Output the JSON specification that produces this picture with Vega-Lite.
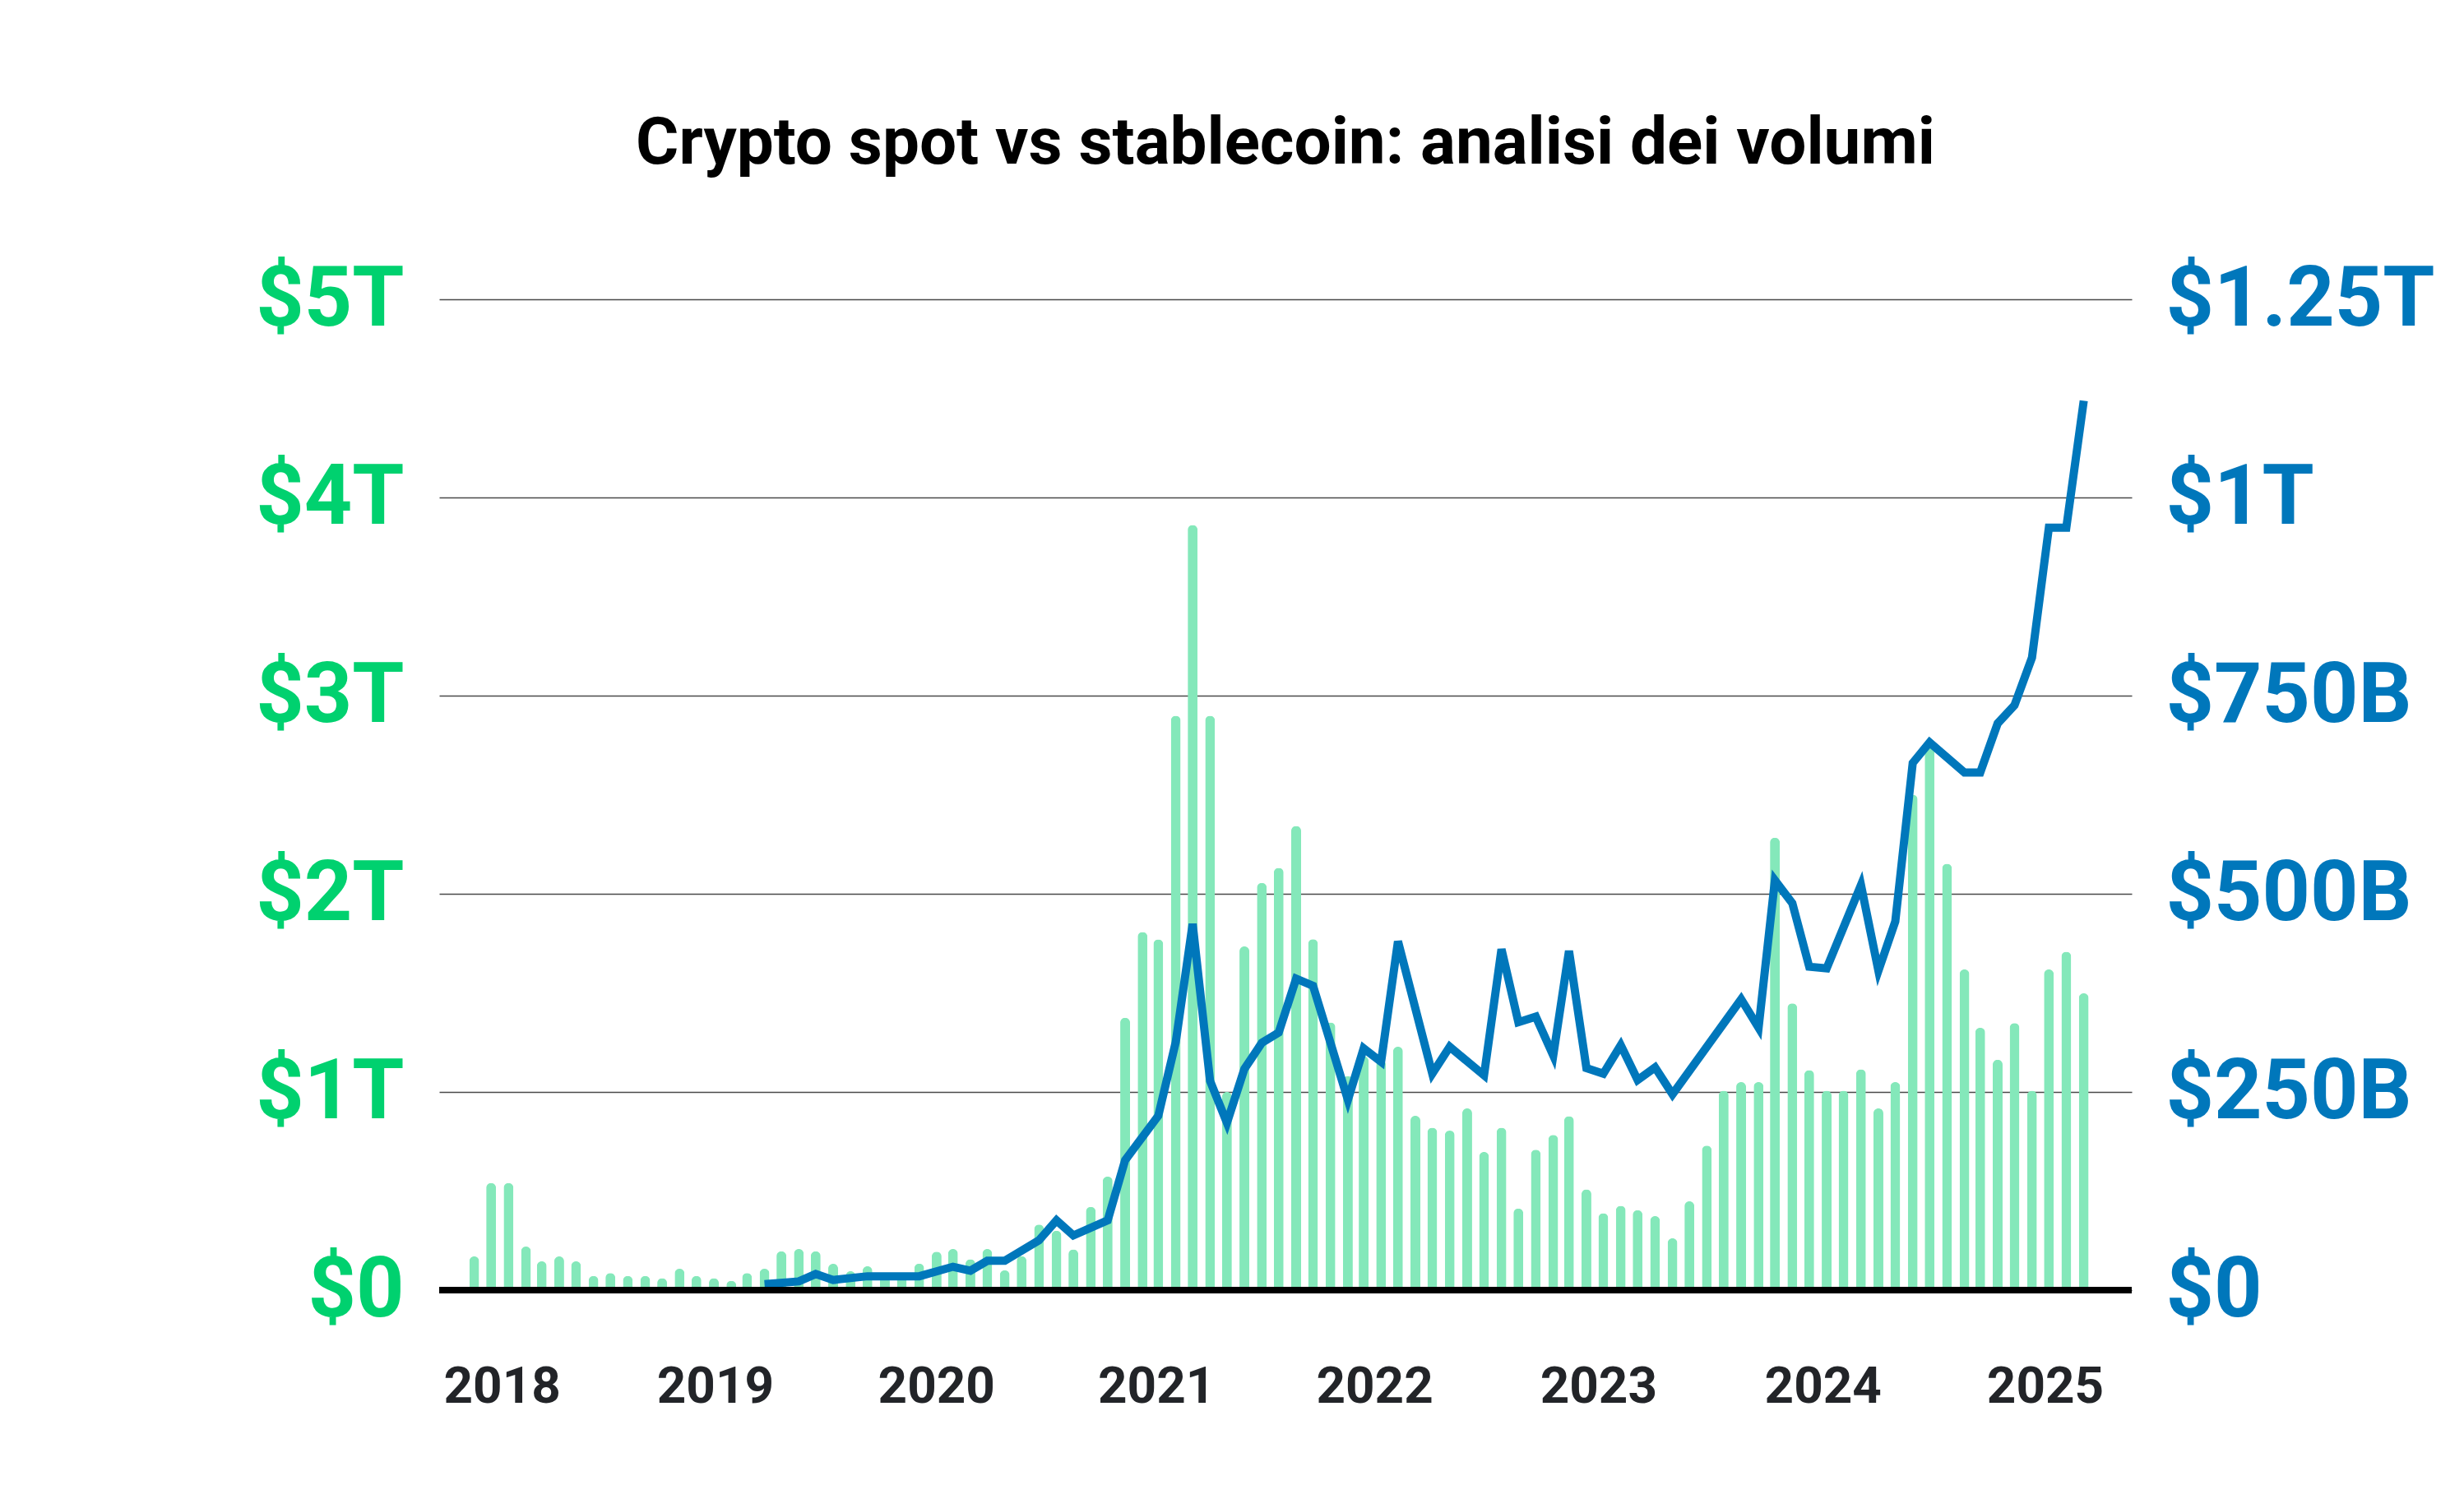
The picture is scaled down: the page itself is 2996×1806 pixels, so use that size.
{
  "$schema": "https://vega.github.io/schema/vega-lite/v6.json",
  "autosize": {"type": "none"},
  "width": 2058,
  "height": 1205,
  "padding": {"left": 534, "top": 364, "right": 404, "bottom": 237},
  "background": "white",
  "config": {"view": {"stroke": null}},
  "title": {
    "text": "Crypto spot vs stablecoin: analisi dei volumi",
    "font": "Roboto",
    "fontSize": 80,
    "fontWeight": 700,
    "color": "#000000",
    "anchor": "middle",
    "baseline": "alphabetic",
    "offset": 34
  },
  "datasets": {
    "spot": [
      {"date": "2017-11-01", "spot": 0.17}, {"date": "2017-12-01", "spot": 0.54}, {"date": "2018-01-01", "spot": 0.54},
      {"date": "2018-02-01", "spot": 0.22}, {"date": "2018-03-01", "spot": 0.145}, {"date": "2018-04-01", "spot": 0.17},
      {"date": "2018-05-01", "spot": 0.145}, {"date": "2018-06-01", "spot": 0.072}, {"date": "2018-07-01", "spot": 0.086},
      {"date": "2018-08-01", "spot": 0.072}, {"date": "2018-09-01", "spot": 0.072}, {"date": "2018-10-01", "spot": 0.06},
      {"date": "2018-11-01", "spot": 0.108}, {"date": "2018-12-01", "spot": 0.072}, {"date": "2019-01-01", "spot": 0.06},
      {"date": "2019-02-01", "spot": 0.047}, {"date": "2019-03-01", "spot": 0.086}, {"date": "2019-04-01", "spot": 0.108},
      {"date": "2019-05-01", "spot": 0.196}, {"date": "2019-06-01", "spot": 0.207}, {"date": "2019-07-01", "spot": 0.196},
      {"date": "2019-08-01", "spot": 0.133}, {"date": "2019-09-01", "spot": 0.095}, {"date": "2019-10-01", "spot": 0.12},
      {"date": "2019-11-01", "spot": 0.07}, {"date": "2019-12-01", "spot": 0.07}, {"date": "2020-01-01", "spot": 0.134},
      {"date": "2020-02-01", "spot": 0.194}, {"date": "2020-03-01", "spot": 0.207}, {"date": "2020-04-01", "spot": 0.156},
      {"date": "2020-05-01", "spot": 0.207}, {"date": "2020-06-01", "spot": 0.1}, {"date": "2020-07-01", "spot": 0.171},
      {"date": "2020-08-01", "spot": 0.331}, {"date": "2020-09-01", "spot": 0.3}, {"date": "2020-10-01", "spot": 0.205},
      {"date": "2020-11-01", "spot": 0.42}, {"date": "2020-12-01", "spot": 0.573}, {"date": "2021-01-01", "spot": 1.375},
      {"date": "2021-02-01", "spot": 1.807}, {"date": "2021-03-01", "spot": 1.77}, {"date": "2021-04-01", "spot": 2.898},
      {"date": "2021-05-01", "spot": 3.861}, {"date": "2021-06-01", "spot": 2.898}, {"date": "2021-07-01", "spot": 1.0},
      {"date": "2021-08-01", "spot": 1.734}, {"date": "2021-09-01", "spot": 2.055}, {"date": "2021-10-01", "spot": 2.131},
      {"date": "2021-11-01", "spot": 2.342}, {"date": "2021-12-01", "spot": 1.771}, {"date": "2022-01-01", "spot": 1.351},
      {"date": "2022-02-01", "spot": 1.08}, {"date": "2022-03-01", "spot": 1.18}, {"date": "2022-04-01", "spot": 1.16},
      {"date": "2022-05-01", "spot": 1.228}, {"date": "2022-06-01", "spot": 0.88}, {"date": "2022-07-01", "spot": 0.82},
      {"date": "2022-08-01", "spot": 0.805}, {"date": "2022-09-01", "spot": 0.917}, {"date": "2022-10-01", "spot": 0.697},
      {"date": "2022-11-01", "spot": 0.82}, {"date": "2022-12-01", "spot": 0.412}, {"date": "2023-01-01", "spot": 0.709},
      {"date": "2023-02-01", "spot": 0.783}, {"date": "2023-03-01", "spot": 0.878}, {"date": "2023-04-01", "spot": 0.508},
      {"date": "2023-05-01", "spot": 0.388}, {"date": "2023-06-01", "spot": 0.425}, {"date": "2023-07-01", "spot": 0.404},
      {"date": "2023-08-01", "spot": 0.373}, {"date": "2023-09-01", "spot": 0.261}, {"date": "2023-10-01", "spot": 0.448},
      {"date": "2023-11-01", "spot": 0.729}, {"date": "2023-12-01", "spot": 1.006}, {"date": "2024-01-01", "spot": 1.05},
      {"date": "2024-02-01", "spot": 1.05}, {"date": "2024-03-01", "spot": 2.283}, {"date": "2024-04-01", "spot": 1.447},
      {"date": "2024-05-01", "spot": 1.11}, {"date": "2024-06-01", "spot": 1.006}, {"date": "2024-07-01", "spot": 1.006},
      {"date": "2024-08-01", "spot": 1.114}, {"date": "2024-09-01", "spot": 0.917}, {"date": "2024-10-01", "spot": 1.05},
      {"date": "2024-11-01", "spot": 2.5}, {"date": "2024-12-01", "spot": 2.74}, {"date": "2025-01-01", "spot": 2.151},
      {"date": "2025-02-01", "spot": 1.618}, {"date": "2025-03-01", "spot": 1.324}, {"date": "2025-04-01", "spot": 1.163},
      {"date": "2025-05-01", "spot": 1.347}, {"date": "2025-06-01", "spot": 1.006}, {"date": "2025-07-01", "spot": 1.618},
      {"date": "2025-08-01", "spot": 1.707}, {"date": "2025-09-01", "spot": 1.498}
    ],
    "stable": [
      {"date": "2019-04-01", "stable": 7.6}, {"date": "2019-06-01", "stable": 11}, {"date": "2019-07-01", "stable": 20.4},
      {"date": "2019-08-01", "stable": 12.8}, {"date": "2019-10-01", "stable": 17.5}, {"date": "2020-01-01", "stable": 17.5},
      {"date": "2020-03-01", "stable": 29.5}, {"date": "2020-04-01", "stable": 24.5}, {"date": "2020-05-01", "stable": 37},
      {"date": "2020-06-01", "stable": 37}, {"date": "2020-08-01", "stable": 63}, {"date": "2020-09-01", "stable": 88},
      {"date": "2020-10-01", "stable": 69}, {"date": "2020-12-01", "stable": 88}, {"date": "2021-01-01", "stable": 164},
      {"date": "2021-03-01", "stable": 220}, {"date": "2021-04-01", "stable": 313}, {"date": "2021-05-01", "stable": 462},
      {"date": "2021-06-01", "stable": 264}, {"date": "2021-07-01", "stable": 211}, {"date": "2021-08-01", "stable": 279},
      {"date": "2021-09-01", "stable": 312}, {"date": "2021-10-01", "stable": 325}, {"date": "2021-11-01", "stable": 393},
      {"date": "2021-12-01", "stable": 384}, {"date": "2022-02-01", "stable": 240}, {"date": "2022-03-01", "stable": 305},
      {"date": "2022-04-01", "stable": 288}, {"date": "2022-05-01", "stable": 440}, {"date": "2022-07-01", "stable": 273},
      {"date": "2022-08-01", "stable": 307}, {"date": "2022-10-01", "stable": 271}, {"date": "2022-11-01", "stable": 430},
      {"date": "2022-12-01", "stable": 338}, {"date": "2023-01-01", "stable": 345}, {"date": "2023-02-01", "stable": 296},
      {"date": "2023-03-01", "stable": 428}, {"date": "2023-04-01", "stable": 280}, {"date": "2023-05-01", "stable": 273},
      {"date": "2023-06-01", "stable": 309}, {"date": "2023-07-01", "stable": 265}, {"date": "2023-08-01", "stable": 281},
      {"date": "2023-09-01", "stable": 247}, {"date": "2024-01-01", "stable": 367}, {"date": "2024-02-01", "stable": 331},
      {"date": "2024-03-01", "stable": 517}, {"date": "2024-04-01", "stable": 488}, {"date": "2024-05-01", "stable": 408},
      {"date": "2024-06-01", "stable": 406}, {"date": "2024-08-01", "stable": 511}, {"date": "2024-09-01", "stable": 403},
      {"date": "2024-10-01", "stable": 465}, {"date": "2024-11-01", "stable": 665}, {"date": "2024-12-01", "stable": 691},
      {"date": "2025-02-01", "stable": 653}, {"date": "2025-03-01", "stable": 653}, {"date": "2025-04-01", "stable": 715},
      {"date": "2025-05-01", "stable": 738}, {"date": "2025-06-01", "stable": 798}, {"date": "2025-07-01", "stable": 962},
      {"date": "2025-08-01", "stable": 962}, {"date": "2025-09-01", "stable": 1122}
    ]
  },
  "encoding": {
    "x": {
      "field": "date",
      "type": "temporal",
      "title": null,
      "scale": {"type": "utc", "domain": ["2017-09-07", "2025-11-18"]},
      "axis": {
        "values": [
          {"year": 2017, "month": 12, "date": 20, "utc": true},
          {"year": 2019, "month": 1, "date": 3, "utc": true},
          {"year": 2020, "month": 1, "date": 31, "utc": true},
          {"year": 2021, "month": 2, "date": 25, "utc": true},
          {"year": 2022, "month": 3, "date": 20, "utc": true},
          {"year": 2023, "month": 4, "date": 22, "utc": true},
          {"year": 2024, "month": 5, "date": 25, "utc": true},
          {"year": 2025, "month": 6, "date": 24, "utc": true}
        ],
        "labelExpr": "utcFormat(datum.value + 2592000000, '%Y')",
        "domain": false,
        "ticks": false,
        "tickSize": 0,
        "grid": false,
        "labelFont": "Roboto",
        "labelFontSize": 62,
        "labelFontWeight": 700,
        "labelColor": "#222428",
        "labelBaseline": "alphabetic",
        "labelPadding": 136,
        "labelAlign": "center",
        "labelLimit": 1000
      }
    }
  },
  "layer": [
    {
      "data": {"name": "spot"},
      "mark": {"type": "bar", "color": "#84E8BA", "size": 12, "cornerRadiusTopLeft": 6, "cornerRadiusTopRight": 6},
      "encoding": {
        "y": {
          "field": "spot",
          "type": "quantitative",
          "title": null,
          "scale": {"domain": [0, 5], "nice": false},
          "axis": {
            "orient": "left",
            "values": [0, 1, 2, 3, 4, 5],
            "labelExpr": "datum.value == 0 ? '$0' : '$' + datum.value + 'T'",
            "domain": false,
            "ticks": false,
            "tickSize": 0,
            "grid": true,
            "gridColor": "#4a4a4a",
            "gridWidth": 1.5,
            "labelFont": "Roboto",
            "labelFontSize": 102,
            "labelFontWeight": 700,
            "labelColor": "#00D16F",
            "labelPadding": 43,
            "labelLimit": 1000
          }
        }
      }
    },
    {
      "data": {"name": "stable"},
      "mark": {"type": "line", "color": "#0077BB", "strokeWidth": 10, "strokeJoin": "miter", "strokeCap": "butt"},
      "encoding": {
        "y": {
          "field": "stable",
          "type": "quantitative",
          "title": null,
          "scale": {"domain": [0, 1250], "nice": false},
          "axis": {
            "orient": "right",
            "values": [0, 250, 500, 750, 1000, 1250],
            "labelExpr": "datum.value == 0 ? '$0' : datum.value == 1000 ? '$1T' : datum.value == 1250 ? '$1.25T' : '$' + datum.value + 'B'",
            "domain": false,
            "ticks": false,
            "tickSize": 0,
            "grid": false,
            "labelFont": "Roboto",
            "labelFontSize": 102,
            "labelFontWeight": 700,
            "labelColor": "#0077BB",
            "labelPadding": 41,
            "labelLimit": 1000
          }
        }
      }
    },
    {
      "data": {"values": [{}]},
      "mark": {"type": "rule", "color": "#000000", "strokeWidth": 8, "strokeCap": "butt"},
      "encoding": {
        "y": {"datum": 0, "type": "quantitative", "scale": {"domain": [0, 5], "nice": false}, "axis": null},
        "x": null
      }
    }
  ],
  "resolve": {"scale": {"y": "independent"}}
}
